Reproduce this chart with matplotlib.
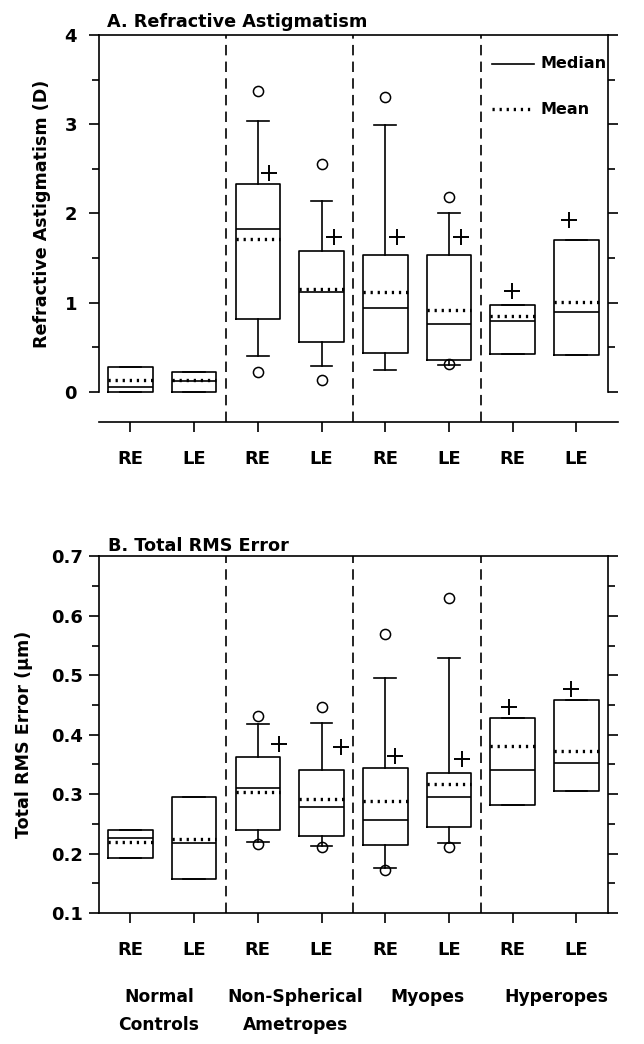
import numpy as np
import matplotlib
matplotlib.use("Agg")
import matplotlib.pyplot as plt

plt.rcParams['font.family'] = ['DejaVu Sans']
plt.rcParams['font.weight'] = 'bold'
plt.rcParams['lines.scale_dashes'] = False

eyes = ['RE', 'LE'] * 4
group_line1 = ['Normal', 'Non-Spherical', 'Myopes', 'Hyperopes']
group_line2 = ['Controls', 'Ametropes', '', '']

# A. refractive astigmatism (D)
astig_q1 = [0.00, 0.00, 0.82, 0.56, 0.44, 0.36, 0.43, 0.42]
astig_q3 = [0.28, 0.22, 2.33, 1.58, 1.53, 1.53, 0.97, 1.70]
astig_med = [0.06, 0.12, 1.83, 1.12, 0.94, 0.76, 0.79, 0.90]
astig_mean = [0.13, 0.13, 1.71, 1.15, 1.12, 0.92, 0.85, 1.01]
astig_whislo = [None, None, 0.40, 0.29, 0.25, 0.30, None, None]
astig_whishi = [None, None, 3.04, 2.14, 2.99, 2.00, None, None]
astig_out = [[], [], [3.37, 0.22], [2.55, 0.13], [3.30], [2.18, 0.31], [], []]
astig_plus = [None, None, 2.45, 1.74, 1.74, 1.74, 1.13, 1.93]

# B. total RMS error (um)
rms_q1 = [0.192, 0.157, 0.239, 0.230, 0.215, 0.244, 0.282, 0.306]
rms_q3 = [0.239, 0.296, 0.363, 0.341, 0.344, 0.335, 0.428, 0.459]
rms_med = [0.227, 0.217, 0.310, 0.278, 0.257, 0.296, 0.340, 0.353]
rms_mean = [0.219, 0.225, 0.304, 0.291, 0.289, 0.317, 0.381, 0.372]
rms_whislo = [None, None, 0.220, 0.213, 0.176, 0.218, None, None]
rms_whishi = [None, None, 0.418, 0.420, 0.496, 0.529, None, None]
rms_out = [[], [], [0.432, 0.216], [0.447, 0.211], [0.569, 0.172], [0.630, 0.211], [], []]
rms_plus = [None, None, 0.384, 0.379, 0.365, 0.359, 0.447, 0.477]

# sideways shift of the "+" marks
plus_shift_a = [0, 0, 0.17, 0.19, 0.19, 0.19, -0.01, -0.11]
plus_shift_b = [0, 0, 0.33, 0.30, 0.16, 0.20, -0.06, -0.09]
group_shift = [-0.05, 0.09, 0.16, 0.18]

LW = 1.2
pos = np.arange(1, len(eyes) + 1)


def make_stats(q1, q3, med, mean, lo, hi, out):
    st = []
    for i in range(len(q1)):
        st.append(dict(q1=q1[i], q3=q3[i], med=med[i], mean=mean[i],
                       whislo=q1[i] if lo[i] is None else lo[i],
                       whishi=q3[i] if hi[i] is None else hi[i],
                       fliers=out[i]))
    return st


def draw_panel(ax, stats, plus, shift):
    lp = dict(color='k', linewidth=LW)
    ax.bxp(stats, positions=pos, widths=0.7, capwidths=0.34,
           showmeans=True, meanline=True, showfliers=True,
           boxprops=lp, whiskerprops=lp, capprops=lp, medianprops=lp,
           meanprops=dict(color='k', linewidth=2.4, linestyle=(0, (1.6, 3.5))),
           flierprops=dict(marker='o', markersize=7.3, markerfacecolor='none',
                           markeredgecolor='k', markeredgewidth=1.1, linestyle='none'),
           manage_ticks=False)
    for i, p in enumerate(plus):
        if p is not None:
            ax.plot(pos[i] + shift[i], p, marker='+', markersize=11,
                    markeredgewidth=1.4, color='k', linestyle='none')
    for b in np.arange(2.5, len(eyes), 2):
        ax.axvline(b, color='k', linewidth=LW, linestyle=(0, (7.5, 4.5)))
    ax.set_xlim(0.5, 8.5)
    ax.set_xticks(pos)
    ax.set_xticklabels(eyes)
    for s in ax.spines.values():
        s.set_linewidth(LW)
    ax.tick_params(axis='both', which='both', direction='out', width=LW,
                   right=True, labelsize=13)
    ax.tick_params(axis='y', which='major', length=7)
    ax.tick_params(axis='y', which='minor', length=5)
    ax.tick_params(axis='x', length=7.5, pad=13)


fig = plt.figure(figsize=(6.44, 10.44), dpi=100)
axA = fig.add_axes([0.1530, 0.5958, 0.7915, 0.3707])
axB = fig.add_axes([0.1530, 0.1255, 0.7915, 0.3415])

# panel A
draw_panel(axA, make_stats(astig_q1, astig_q3, astig_med, astig_mean,
                           astig_whislo, astig_whishi, astig_out),
           astig_plus, plus_shift_a)
axA.set_ylim(-0.336, 4)
axA.set_yticks([0, 1, 2, 3, 4])
axA.set_yticks(np.arange(0.5, 4, 1), minor=True)
axA.spines['left'].set_bounds(0, 4)
axA.spines['right'].set_bounds(0, 4)
axA.spines['bottom'].set_visible(False)
axA.plot([0, 1.02], [0, 0], transform=axA.transAxes, color='k',
         linewidth=LW, clip_on=False)
axA.tick_params(axis='y', pad=8.5)
fig.text(0.0652, 1 - 213.5 / 1044, 'Refractive Astigmatism (D)', rotation=90,
         ha='center', va='center', fontsize=12.6)
fig.text(107 / 644, 1 - 27.5 / 1044, 'A. Refractive Astigmatism',
         fontsize=12.7, va='baseline')

# legend
axA.plot([0.772, 0.8535], [0.925, 0.925], transform=axA.transAxes,
         color='k', linewidth=LW)
axA.plot([0.772, 0.846], [0.808, 0.808], transform=axA.transAxes,
         color='k', linewidth=2.4, linestyle=(0, (1.6, 3.5)))
axA.text(0.8667, 0.925, 'Median', transform=axA.transAxes, va='center', fontsize=11.5)
axA.text(0.8667, 0.808, 'Mean', transform=axA.transAxes, va='center', fontsize=11.5)

# panel B
draw_panel(axB, make_stats(rms_q1, rms_q3, rms_med, rms_mean,
                           rms_whislo, rms_whishi, rms_out),
           rms_plus, plus_shift_b)
axB.set_ylim(0.1, 0.7)
axB.set_yticks(np.arange(0.1, 0.71, 0.1))
axB.set_yticklabels(['%.1f' % v for v in np.arange(0.1, 0.71, 0.1)])
axB.set_yticks(np.arange(0.15, 0.7, 0.1), minor=True)
axB.tick_params(axis='y', pad=4.5)
fig.text(24 / 644, 1 - 734.75 / 1044, 'Total RMS Error (\u03bcm)', rotation=90,
         ha='center', va='center', fontsize=12.6)
fig.text(108 / 644, 1 - 550.7 / 1044, 'B. Total RMS Error',
         fontsize=12.7, va='baseline')

for g in range(len(group_line1)):
    xg = 2 * g + 1.5 + group_shift[g]
    axB.text(xg, -0.235, group_line1[g], transform=axB.get_xaxis_transform(),
             ha='center', va='center', fontsize=12.3)
    axB.text(xg, -0.3145, group_line2[g], transform=axB.get_xaxis_transform(),
             ha='center', va='center', fontsize=12.3)

for ax in (axA, axB):
    for lab in ax.get_xticklabels() + ax.get_yticklabels():
        lab.set_fontweight('bold')

fig.savefig('out.png', dpi=100)
